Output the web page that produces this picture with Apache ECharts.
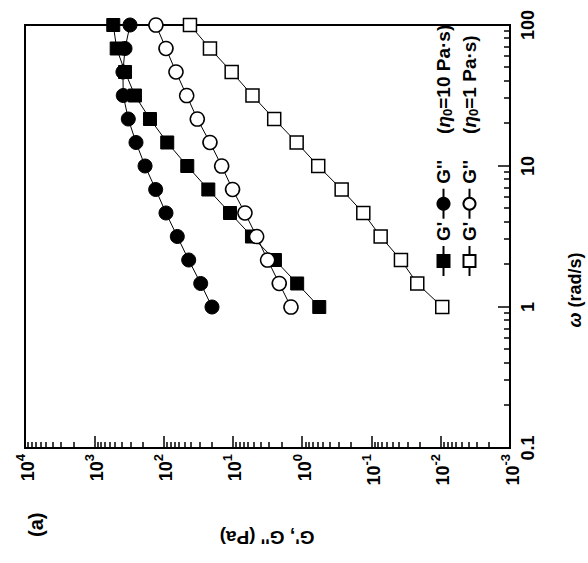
<!DOCTYPE html>
<html>
<head>
<meta charset="utf-8">
<script src="https://cdn.jsdelivr.net/npm/echarts@6/dist/echarts.min.js"></script>
<style>
  html, body { margin: 0; padding: 0; background: #fff; width: 588px; height: 563px; overflow: hidden; }
  /* the figure is laid out upright (563 wide, 588 tall) and turned a quarter-turn counter-clockwise */
  #chart { position: absolute; left: 0; top: 0; width: 563px; height: 588px;
           transform-origin: 0 0; transform: translate(0, 563px) rotate(-90deg); }
</style>
</head>
<body>
<div id="chart"></div>
<script>
// angular frequency (rad/s), six points per decade
const omega = [1, 1.468, 2.154, 3.162, 4.642, 6.813, 10, 14.68, 21.54, 31.62, 46.42, 68.13, 100];
// storage and loss moduli (Pa)
const gStorage10 = [0.566, 1.18, 2.47, 5.30, 11.0, 22.6, 45.5, 88.5, 157, 259, 360, 475, 532];
const gLoss10    = [20.0, 29.1, 43.4, 63.4, 92.3, 130, 185, 250, 323, 382, 386, 360, 305];
const gStorage1  = [0.0095, 0.0218, 0.0375, 0.0736, 0.131, 0.269, 0.586, 1.20, 2.53, 5.21, 10.4, 21.4, 41.6];
const gLoss1     = [1.45, 2.14, 3.15, 4.54, 6.69, 10.1, 14.5, 21.4, 32.6, 46.4, 66.2, 92.3, 129];

const omegaRange = [0.1, 100];
const modulusRange = [1e-3, 1e4];

const FONT = '"Liberation Sans", Arial, sans-serif';

// minor tick positions (2..9 within each decade)
function minorTicks(lo, hi) {
  const out = [];
  for (let e = Math.round(Math.log10(lo)); e < Math.round(Math.log10(hi)); e++) {
    for (let m = 2; m <= 9; m++) out.push(m * Math.pow(10, e));
  }
  return out;
}

function pairs(xs, ys) { return xs.map((x, i) => [x, ys[i]]); }

const legendNames = {
  's10p': "G'", 's10pp': "G''", 's1p': "G'", 's1pp': "G''"
};
const legendNotes = { 's10pp': '10', 's1pp': '1' };

function legendFormatter(name) {
  const base = '{g|' + legendNames[name] + '}';
  if (!legendNotes[name]) return base;
  return base + '{gap|}{p|(}{eta|η}{sub|0}{p|=' + legendNotes[name] + ' Pa·s)}';
}

const legendRich = {
  g: { fontFamily: FONT, fontSize: 19, fontWeight: 'bold', color: '#000' },
  gap: { width: 26 },
  p: { fontFamily: FONT, fontSize: 19, fontWeight: 'bold', color: '#000' },
  eta: { fontFamily: FONT, fontSize: 19, fontWeight: 'bold', fontStyle: 'italic', color: '#000' },
  sub: { fontFamily: FONT, fontSize: 13, fontWeight: 'bold', color: '#000', verticalAlign: 'bottom', padding: [8, 0, 0, 0] }
};

function legendBlock(names, top) {
  return {
    data: names, left: 286, top: top, orient: 'horizontal', padding: 0,
    itemWidth: 30, itemHeight: 15, itemGap: 2, selectedMode: false,
    formatter: legendFormatter,
    textStyle: { rich: legendRich }
  };
}

const lineStyle = { color: '#000', width: 1 };
const filled = { color: '#000', borderColor: '#000', borderWidth: 1 };
const open = { color: '#fff', borderColor: '#000', borderWidth: 1.5 };

const chart = echarts.init(document.getElementById('chart'), null, { renderer: 'svg' });

chart.setOption({
  animation: false,
  backgroundColor: '#fff',
  grid: { left: 115, right: 25, top: 25, bottom: 78, show: true, borderColor: '#000', borderWidth: 2 },
  xAxis: [
    {
      type: 'log', logBase: 10, min: omegaRange[0], max: omegaRange[1], splitNumber: 3,
      axisLine: { lineStyle: { color: '#000', width: 2 } },
      axisTick: { inside: true, length: 12, lineStyle: { color: '#000', width: 1.5 } },
      splitLine: { show: false },
      axisLabel: {
        margin: 9, color: '#000', fontFamily: FONT, fontSize: 18, fontWeight: 'bold',
        formatter: v => String(+v.toPrecision(3))
      }
    },
    {
      type: 'log', logBase: 10, min: omegaRange[0], max: omegaRange[1], position: 'bottom',
      axisLine: { show: false }, axisLabel: { show: false }, splitLine: { show: false },
      axisTick: { inside: true, length: 6, lineStyle: { color: '#000', width: 1.5 },
                  customValues: minorTicks(omegaRange[0], omegaRange[1]) }
    }
  ],
  yAxis: [
    {
      type: 'log', logBase: 10, min: modulusRange[0], max: modulusRange[1], splitNumber: 7,
      axisLine: { lineStyle: { color: '#000', width: 2 } },
      axisTick: { inside: true, length: 12, lineStyle: { color: '#000', width: 1.5 } },
      splitLine: { show: false },
      axisLabel: {
        margin: 6, color: '#000', fontFamily: FONT,
        formatter: v => '{b|10}{s|' + Math.round(Math.log10(v)) + '}',
        rich: {
          b: { fontFamily: FONT, fontSize: 18, fontWeight: 'bold', color: '#000', verticalAlign: 'bottom' },
          s: { fontFamily: FONT, fontSize: 13, fontWeight: 'bold', color: '#000', verticalAlign: 'top', padding: [0, 0, 10, 0] }
        }
      }
    },
    {
      type: 'log', logBase: 10, min: modulusRange[0], max: modulusRange[1], position: 'left',
      axisLine: { show: false }, axisLabel: { show: false }, splitLine: { show: false },
      axisTick: { inside: true, length: 6, lineStyle: { color: '#000', width: 1.5 },
                  customValues: minorTicks(modulusRange[0], modulusRange[1]) }
    }
  ],
  legend: [legendBlock(['s10p', 's10pp'], 434), legendBlock(['s1p', 's1pp'], 460)],
  series: [
    { name: 's10p', type: 'line', data: pairs(omega, gStorage10), symbol: 'rect', symbolSize: 13,
      lineStyle, itemStyle: filled, z: 2 },
    { name: 's10pp', type: 'line', data: pairs(omega, gLoss10), symbol: 'circle', symbolSize: 14,
      lineStyle, itemStyle: filled, z: 2 },
    { name: 's1p', type: 'line', data: pairs(omega, gStorage1), symbol: 'rect', symbolSize: 13,
      lineStyle, itemStyle: open, z: 3 },
    { name: 's1pp', type: 'line', data: pairs(omega, gLoss1), symbol: 'circle', symbolSize: 14,
      lineStyle, itemStyle: open, z: 3 }
  ],
  graphic: [
    { type: 'text', left: 26, top: 26, style: { text: '(a)', fontFamily: FONT, fontSize: 20, fontWeight: 'bold', fill: '#000' } },
    { type: 'text', x: 26, y: 267, rotation: Math.PI / 2,
      style: { text: "G', G'' (Pa)", fontFamily: FONT, fontSize: 19, fontWeight: 'bold', fill: '#000',
               align: 'center', verticalAlign: 'middle' } },
    { type: 'text', x: 273, y: 575,
      style: { text: '{w|ω} (rad/s)', fontFamily: FONT, fontSize: 18, fontWeight: 'bold', fill: '#000',
               align: 'center', verticalAlign: 'middle',
               rich: { w: { fontFamily: FONT, fontSize: 18, fontWeight: 'bold', fontStyle: 'italic' } } } }
  ]
});
</script>
</body>
</html>
